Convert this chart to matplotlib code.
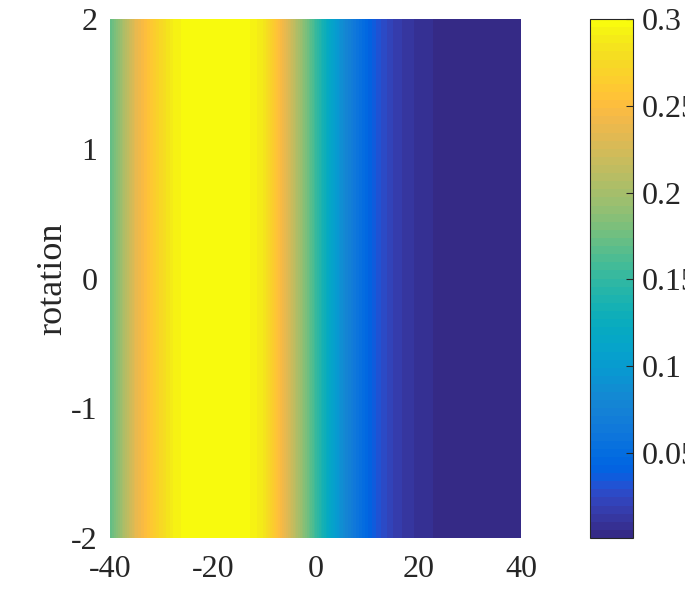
import numpy as np
import matplotlib
matplotlib.use("Agg")
import matplotlib.pyplot as plt
from matplotlib.colors import ListedColormap

# MATLAB parula colormap (64 entries)
parula_data = [
    [0.2081, 0.1663, 0.5292], [0.2116, 0.1898, 0.5777], [0.2123, 0.2138, 0.6270], [0.2081, 0.2386, 0.6771],
    [0.1959, 0.2645, 0.7279], [0.1707, 0.2919, 0.7792], [0.1253, 0.3242, 0.8303], [0.0591, 0.3598, 0.8683],
    [0.0117, 0.3875, 0.8820], [0.0060, 0.4086, 0.8828], [0.0165, 0.4266, 0.8786], [0.0329, 0.4430, 0.8720],
    [0.0498, 0.4586, 0.8641], [0.0629, 0.4737, 0.8554], [0.0723, 0.4887, 0.8467], [0.0779, 0.5040, 0.8384],
    [0.0793, 0.5200, 0.8312], [0.0749, 0.5375, 0.8263], [0.0641, 0.5570, 0.8240], [0.0488, 0.5772, 0.8228],
    [0.0343, 0.5966, 0.8199], [0.0265, 0.6137, 0.8135], [0.0239, 0.6287, 0.8038], [0.0231, 0.6418, 0.7913],
    [0.0228, 0.6535, 0.7768], [0.0267, 0.6642, 0.7607], [0.0384, 0.6743, 0.7436], [0.0590, 0.6838, 0.7254],
    [0.0843, 0.6928, 0.7062], [0.1133, 0.7015, 0.6859], [0.1453, 0.7098, 0.6646], [0.1801, 0.7177, 0.6424],
    [0.2178, 0.7250, 0.6193], [0.2586, 0.7317, 0.5954], [0.3022, 0.7376, 0.5712], [0.3482, 0.7424, 0.5473],
    [0.3953, 0.7459, 0.5244], [0.4420, 0.7481, 0.5033], [0.4871, 0.7491, 0.4840], [0.5300, 0.7491, 0.4661],
    [0.5709, 0.7485, 0.4494], [0.6099, 0.7473, 0.4337], [0.6473, 0.7456, 0.4188], [0.6834, 0.7435, 0.4044],
    [0.7184, 0.7411, 0.3905], [0.7525, 0.7384, 0.3768], [0.7858, 0.7356, 0.3633], [0.8185, 0.7327, 0.3498],
    [0.8507, 0.7299, 0.3360], [0.8824, 0.7274, 0.3217], [0.9139, 0.7258, 0.3063], [0.9450, 0.7261, 0.2886],
    [0.9739, 0.7314, 0.2666], [0.9938, 0.7455, 0.2403], [0.9990, 0.7653, 0.2164], [0.9955, 0.7861, 0.1967],
    [0.9880, 0.8066, 0.1794], [0.9789, 0.8271, 0.1633], [0.9697, 0.8481, 0.1475], [0.9626, 0.8705, 0.1309],
    [0.9589, 0.8949, 0.1132], [0.9598, 0.9218, 0.0948], [0.9661, 0.9514, 0.0755], [0.9763, 0.9831, 0.0538],
]
parula = ListedColormap(parula_data, name="parula")

# Data: x positions and value profile (constant along rotation)
x_vals = [-40, -37.5, -35, -32.5, -30, -27.5, -25, -22.5, -20, -17.5, -15, -12.5, -10,
          -7.5, -5, -2.5, 0, 2.5, 5, 7.5, 10, 12.5, 15, 17.5, 20, 22.5, 25, 27.5,
          30, 32.5, 35, 37.5, 40]
profile = [0.170, 0.200, 0.235, 0.255, 0.275, 0.292, 0.298, 0.300, 0.300, 0.300, 0.299,
           0.295, 0.285, 0.255, 0.225, 0.190, 0.155, 0.120, 0.088, 0.065, 0.045, 0.030,
           0.020, 0.013, 0.009, 0.006, 0.004, 0.003, 0.002, 0.0015, 0.001, 0.001, 0.001]
rotation_vals = [-2, 2]
xticks = [-40, -20, 0, 20, 40]
yticks = [-2, -1, 0, 1, 2]
cticks = [0.05, 0.1, 0.15, 0.2, 0.25, 0.3]
cticklabels = ["0.05", "0.1", "0.15", "0.2", "0.25", "0.3"]

plt.rcParams['font.family'] = ['Liberation Serif', 'DejaVu Serif']
plt.rcParams['axes.unicode_minus'] = False

Z = np.tile(np.array(profile), (len(rotation_vals), 1))
dx = x_vals[1] - x_vals[0]
dy = rotation_vals[1] - rotation_vals[0]

fig = plt.figure(figsize=(6.85, 6.0), dpi=100)
ax = fig.add_axes([0.1606, 0.1033, 0.6, 0.865])
cax = fig.add_axes([0.8613, 0.1033, 0.0628, 0.865])

im = ax.imshow(Z, cmap=parula, origin='lower', aspect='auto',
               extent=[x_vals[0] - dx / 2, x_vals[-1] + dx / 2,
                       rotation_vals[0] - dy / 2, rotation_vals[-1] + dy / 2],
               interpolation='bilinear', interpolation_stage='data',
               vmin=min(profile), vmax=max(profile))
ax.set_xlim(x_vals[0], x_vals[-1])
ax.set_ylim(rotation_vals[0], rotation_vals[-1])
ax.set_xticks(xticks)
ax.set_yticks(yticks)
ax.tick_params(length=0, labelsize=23, pad=9, colors='#262626')
ax.tick_params(axis='x', pad=12)
for s in ax.spines.values():
    s.set_visible(False)
ax.set_ylabel('rotation', fontsize=26, color='#262626', labelpad=1)

cb = fig.colorbar(im, cax=cax)
cb.set_ticks(cticks)
cb.set_ticklabels(cticklabels)
cax.tick_params(labelsize=23, direction='in', length=5, width=0.8, pad=6, colors='#262626')
cb.outline.set_edgecolor('#262626')
cb.outline.set_linewidth(0.8)

fig.savefig('out.png', dpi=100)
